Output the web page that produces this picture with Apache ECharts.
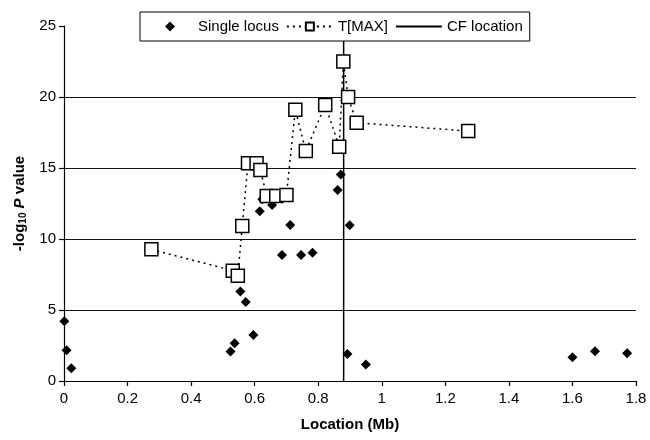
<!DOCTYPE html>
<html>
<head>
<meta charset="utf-8">
<script src="https://cdn.jsdelivr.net/npm/echarts@6/dist/echarts.min.js"></script>
<style>
  html, body { margin: 0; padding: 0; background: #fff; }
  #chart { width: 650px; height: 440px; }
</style>
</head>
<body>
<div id="chart"></div>
<script>
// Single locus results (Mb, -log10 P)
const singleX = [0.001, 0.008, 0.023, 0.524, 0.537, 0.555, 0.572, 0.596, 0.616, 0.624, 0.655, 0.686,
  0.712, 0.746, 0.782, 0.861, 0.871, 0.892, 0.899, 0.950, 1.600, 1.671, 1.772];
const singleY = [4.2, 2.16, 0.9, 2.07, 2.65, 6.3, 5.57, 3.24, 11.95, 12.8, 12.4, 8.87,
  10.98, 8.87, 9.04, 13.45, 14.55, 1.9, 10.96, 1.17, 1.67, 2.09, 1.95];

// T[MAX] results
const tmaxX = [0.275, 0.531, 0.547, 0.561, 0.579, 0.606, 0.618, 0.638, 0.668, 0.700, 0.728,
  0.761, 0.822, 0.866, 0.879, 0.894, 0.921, 1.272];
const tmaxY = [9.27, 7.77, 7.42, 10.92, 15.33, 15.33, 14.86, 13.03, 13.03, 13.1, 19.1,
  16.2, 19.44, 16.5, 22.5, 20.0, 18.19, 17.6];

// CF gene location
const cfLocation = 0.88;
const yRange = [0, 25];

const font = 'Liberation Sans, Arial, sans-serif';
const diamond = 'path://M0,-1L1,0L0,1L-1,0Z';
const chart = echarts.init(document.getElementById('chart'));

chart.setOption({
  animation: false,
  textStyle: { fontFamily: font, color: '#000' },
  grid: { left: 64, right: 14, top: 26, bottom: 59 },
  legend: {
    left: 140,
    top: 12,
    padding: [7, 7, 7, 25],
    itemGap: 7,
    itemWidth: 46,
    itemHeight: 10,
    symbolKeepAspect: true,
    borderColor: '#000',
    borderWidth: 1,
    borderRadius: 0,
    backgroundColor: '#fff',
    textStyle: { fontFamily: font, fontSize: 15, color: '#000' },
    data: [
      { name: 'Single locus', icon: diamond },
      { name: 'T[MAX]' },
      { name: 'CF location', itemStyle: { color: 'rgba(0,0,0,0)', borderWidth: 0 } }
    ]
  },
  xAxis: {
    type: 'value',
    min: 0,
    max: 1.8,
    interval: 0.2,
    name: 'Location (Mb)',
    nameLocation: 'middle',
    nameGap: 36,
    nameTextStyle: { fontFamily: font, fontSize: 15, fontWeight: 'bold', color: '#000' },
    axisLine: { lineStyle: { color: '#000', width: 1.2 } },
    axisTick: { show: true, length: 5, lineStyle: { color: '#000', width: 1.2 } },
    axisLabel: {
      fontFamily: font, fontSize: 15, color: '#000', margin: 10,
      formatter: v => String(+v.toFixed(1))
    },
    splitLine: { show: false }
  },
  yAxis: {
    type: 'value',
    min: yRange[0],
    max: yRange[1],
    interval: 5,
    name: '{n|-log}{s|10}{i| P}{n| value}',
    nameLocation: 'middle',
    nameGap: 31,
    nameTextStyle: {
      rich: {
        n: { fontFamily: font, fontSize: 15, fontWeight: 'bold', color: '#000' },
        s: { fontFamily: font, fontSize: 10, fontWeight: 'bold', color: '#000', padding: [8, 0, 0, 0] },
        i: { fontFamily: font, fontSize: 15, fontWeight: 'bold', fontStyle: 'italic', color: '#000' }
      }
    },
    axisLine: { show: true, lineStyle: { color: '#000', width: 1.2 } },
    axisTick: { show: true, length: 5, lineStyle: { color: '#000', width: 1.2 } },
    axisLabel: { fontFamily: font, fontSize: 15, color: '#000', margin: 8 },
    splitLine: { show: true, showMinLine: false, showMaxLine: false, lineStyle: { color: '#111', width: 1.2 } }
  },
  series: [
    {
      name: 'Single locus',
      type: 'scatter',
      symbol: diamond,
      symbolSize: 10,
      itemStyle: { color: '#000', opacity: 1 },
      z: 4,
      data: singleX.map((x, i) => [x, singleY[i]])
    },
    {
      name: 'T[MAX]',
      type: 'line',
      symbol: 'rect',
      symbolSize: 13,
      showAllSymbol: true,
      lineStyle: { color: '#000', width: 1.5, type: [2, 4] },
      itemStyle: { color: '#fff', borderColor: '#000', borderWidth: 1.5 },
      z: 5,
      data: tmaxX.map((x, i) => [x, tmaxY[i]])
    },
    {
      name: 'CF location',
      type: 'line',
      symbol: 'none',
      lineStyle: { color: '#000', width: 1.5 },
      itemStyle: { color: '#000' },
      z: 3,
      data: yRange.map(y => [cfLocation, y])
    }
  ]
});
</script>
</body>
</html>
